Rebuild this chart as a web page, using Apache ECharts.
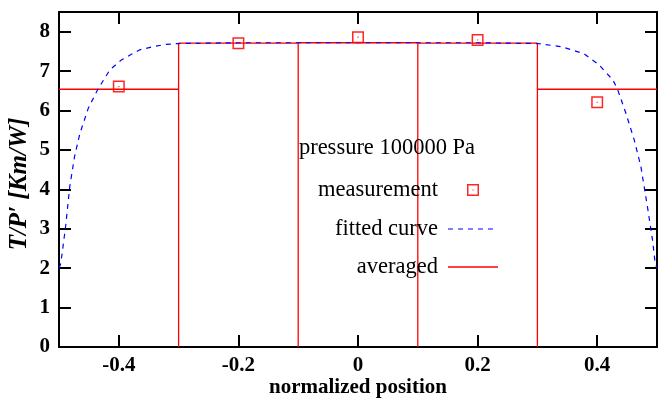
<!DOCTYPE html>
<html>
<head>
<meta charset="utf-8">
<script src="https://cdn.jsdelivr.net/npm/echarts@6/dist/echarts.min.js"></script>
<style>html,body{margin:0;padding:0;background:#fff;}#c{width:658px;height:402px;}</style>
</head>
<body>
<div id="c"></div>
<script>
// ---- data ----
const xTicks = [-0.4, -0.2, 0, 0.2, 0.4];
const yTicks = [0, 1, 2, 3, 4, 5, 6, 7, 8];
const measX = [-0.4, -0.2, 0, 0.2, 0.4];
const measY = [6.61, 7.71, 7.86, 7.79, 6.21];
const fitX = [-0.5, -0.497, -0.489, -0.482, -0.474, -0.465, -0.451, -0.435, -0.415, -0.396, -0.376, -0.365, -0.34, -0.32, -0.3, -0.2, 0, 0.2, 0.3, 0.34, 0.378, 0.403, 0.426, 0.434, 0.448, 0.462, 0.473, 0.484, 0.4925, 0.497, 0.5];
const fitY = [2.0, 2.12, 3.05, 4.07, 4.83, 5.42, 6.06, 6.54, 7.03, 7.28, 7.45, 7.54, 7.63, 7.68, 7.70, 7.72, 7.72, 7.72, 7.70, 7.62, 7.44, 7.16, 6.78, 6.54, 5.93, 5.25, 4.58, 3.56, 2.72, 2.12, 2.0];
const binEdges = [-0.5, -0.3, -0.1, 0.1, 0.3, 0.5];
const binAvg = [6.54, 7.71, 7.72, 7.71, 6.54];
const titleText = 'pressure 100000 Pa';
const seriesNames = ['measurement', 'fitted curve', 'averaged'];
const xName = 'normalized position';
const yName = 'T/P\u2032 [Km/W]';

// ---- build series data ----
const measData = measX.map((x, i) => [x, measY[i]]);
const fitData = fitX.map((x, i) => [x, fitY[i]]);
const avgData = [];
for (let i = 0; i < binAvg.length; i++) {
  const x0 = binEdges[i], x1 = binEdges[i + 1], v = binAvg[i];
  avgData.push([x0, v]);
  avgData.push([x1, v]);
  if (i < binAvg.length - 1) avgData.push([x1, 0]);
}

const RED = '#ff0000', BLUE = '#0000ff';
const sqPath = 'path://M0,0H12V12H0Z M1.5,1.5V10.5H10.5V1.5Z M5.4,5.4H6.6V6.6H5.4Z';
const serif = '"Liberation Serif", "Times New Roman", serif';

const chart = echarts.init(document.getElementById('c'), null, {renderer: 'canvas'});
const tickStyle = {show: true, inside: true, length: 12, lineStyle: {color: '#000', width: 2}};
const lineStyleAx = {show: true, onZero: false, lineStyle: {color: '#000', width: 2}};

const gridL = 59, gridT = 12, gridW = 598, gridH = 335;
const legX = 438, legSymX = 473, legY = [190, 229, 267];
const legFont = '22.5px ' + serif;

chart.setOption({
  animation: false,
  backgroundColor: '#fff',
  grid: {left: gridL, top: gridT, width: gridW, height: gridH, containLabel: false},
  xAxis: [
    {type: 'value', min: -0.5, max: 0.5, position: 'bottom', axisLine: lineStyleAx,
     axisTick: Object.assign({customValues: xTicks}, tickStyle),
     axisLabel: {customValues: xTicks, margin: 8, color: '#000', fontFamily: serif, fontSize: 21, fontWeight: 'bold',
                 formatter: v => String(Math.round(v * 10) / 10)},
     splitLine: {show: false}},
    {type: 'value', min: -0.5, max: 0.5, position: 'top', axisLine: lineStyleAx,
     axisTick: Object.assign({customValues: xTicks}, tickStyle),
     axisLabel: {show: false}, splitLine: {show: false}}
  ],
  yAxis: [
    {type: 'value', min: 0, max: 8.5, position: 'left', axisLine: lineStyleAx,
     axisTick: Object.assign({customValues: yTicks}, tickStyle),
     axisLabel: {customValues: yTicks, margin: 9, color: '#000', fontFamily: serif, fontSize: 21, fontWeight: 'bold'},
     splitLine: {show: false}},
    {type: 'value', min: 0, max: 8.5, position: 'right', axisLine: lineStyleAx,
     axisTick: Object.assign({customValues: yTicks}, tickStyle),
     axisLabel: {show: false}, splitLine: {show: false}}
  ],
  series: [
    {name: seriesNames[2], type: 'line', data: avgData, symbol: 'none', z: 2,
     lineStyle: {color: RED, width: 1.3}, clip: true},
    {name: seriesNames[1], type: 'line', data: fitData, symbol: 'none', z: 3,
     lineStyle: {color: BLUE, width: 1.2, type: [5, 5]}, clip: true},
    {name: seriesNames[0], type: 'scatter', data: measData, symbol: sqPath, symbolSize: 12, z: 4,
     itemStyle: {color: RED, opacity: 0.85}}
  ],
  graphic: [
    {type: 'text', x: 387, y: 148, z: 10,
     style: {text: titleText, font: legFont, fill: '#000', align: 'center', verticalAlign: 'middle'}},
    {type: 'text', x: legX, y: legY[0], z: 10,
     style: {text: seriesNames[0], font: legFont, fill: '#000', align: 'right', verticalAlign: 'middle'}},
    {type: 'text', x: legX, y: legY[1], z: 10,
     style: {text: seriesNames[1], font: legFont, fill: '#000', align: 'right', verticalAlign: 'middle'}},
    {type: 'text', x: legX, y: legY[2], z: 10,
     style: {text: seriesNames[2], font: legFont, fill: '#000', align: 'right', verticalAlign: 'middle'}},
    {type: 'rect', z: 10, shape: {x: legSymX - 5.25, y: legY[0] - 5.25, width: 10.5, height: 10.5},
     style: {fill: 'none', stroke: RED, lineWidth: 1.5, opacity: 0.85}},
    {type: 'rect', z: 10, shape: {x: legSymX - 0.6, y: legY[0] - 0.6, width: 1.2, height: 1.2},
     style: {fill: RED, opacity: 0.85}},
    {type: 'line', z: 10, shape: {x1: 448, y1: legY[1], x2: 498, y2: legY[1]},
     style: {stroke: BLUE, lineWidth: 1.2, lineDash: [5, 5]}},
    {type: 'line', z: 10, shape: {x1: 448, y1: legY[2], x2: 498, y2: legY[2]},
     style: {stroke: RED, lineWidth: 1.3}},
    {type: 'text', x: 358, y: 388, z: 10,
     style: {text: xName, font: 'bold 21px ' + serif, fill: '#000', align: 'center', verticalAlign: 'middle'}},
    {type: 'text', x: 20, y: 184, rotation: Math.PI / 2, z: 10,
     style: {text: yName, font: 'italic bold 25px ' + serif, fill: '#000', align: 'center', verticalAlign: 'middle'}}
  ]
});
</script>
</body>
</html>
